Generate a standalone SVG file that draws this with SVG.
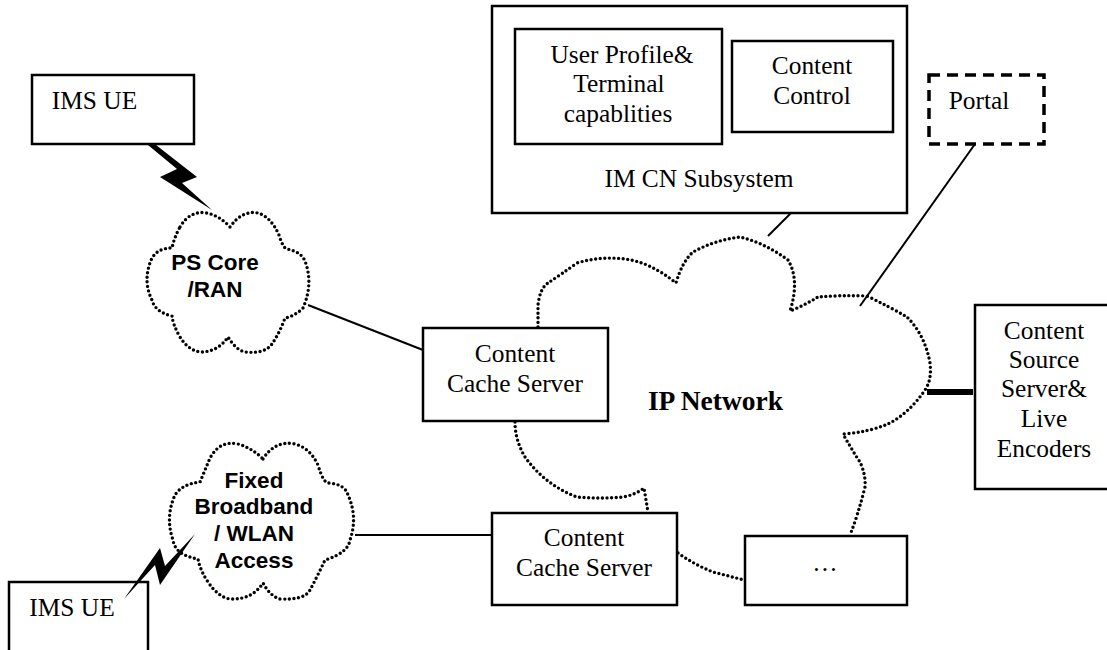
<svg xmlns="http://www.w3.org/2000/svg" width="1107" height="650" viewBox="0 0 1107 650">
<style>
.b{fill:#fff;stroke:#000;stroke-width:2.5}
.d{fill:none;stroke:#000;stroke-width:3.4;stroke-linecap:round;stroke-dasharray:0 4.6}
.l{fill:none;stroke:#000;stroke-width:2}
.t{font-family:"Liberation Serif","Times New Roman",serif;font-size:25.4px;fill:#000;text-anchor:middle}
.s{font-family:"Liberation Sans",Arial,sans-serif;font-size:22.5px;font-weight:bold;fill:#000;text-anchor:middle}
.z{fill:#000;stroke:none}
</style>
<rect width="1107" height="650" fill="#fff"/>
<g id="ip-network">
<path class="d" d="M538 327L538 305Q540 288 548 283Q560 275 577 263Q600 256 625 259Q650 262 676 283Q682 262 693 252Q715 240 740 237Q765 243 788 260Q800 280 790 311Q805 305 818 297Q840 295 867 296Q890 307 907 317Q925 335 930 363Q932 380 925 390Q910 412 890 423Q870 432 843 434Q855 455 860 462Q866 475 865 487Q858 515 850 535"/>
<path class="d" d="M515 422Q515 440 525 457Q545 485 577 497Q600 499 623 497Q635 495 644 488L648 512"/>
<path class="d" d="M678 553Q695 565 713 572L744 580"/>
<text x="715.500" y="410" class="t" style="font-size:27.500px" font-weight="bold">IP Network</text>
</g>
<g id="connectors">
<path class="l" d="M308 305L423 350"/>
<path class="l" d="M355 535L492 535"/>
<path class="l" d="M791 213L768 236"/>
<path class="l" d="M975 144L860 306"/>
<path d="M927 392H973" fill="none" stroke="#000" stroke-width="6"/>
<path class="z" d="M148 145L156 145L197 177L182 183L212 210L160 177L177 169Z"/>
</g>
<g id="ims-ue-top"><rect class="b" x="32" y="75" width="162" height="69"/><text x="94.500" y="109" class="t">IMS UE</text></g>
<g id="ps-core">
<path class="d" d="M180 227Q190 210 207 213Q220 216 230 227Q242 210 258 213Q271 217 279 235Q283 248 287 249Q303 252 306 264Q313 285 303 308Q295 316 285 318Q280 332 272 344Q265 354 245 352Q236 350 228 337Q218 352 200 352Q188 350 180 337Q173 325 172 316Q155 312 152 300Q142 280 152 258Q158 248 172 248Q174 238 180 227Z"/>
<text x="215" y="270" class="s">PS Core</text><text x="215" y="297" class="s">/RAN</text>
</g>
<g id="cache-1"><rect class="b" x="423" y="328" width="185" height="93"/><text x="515" y="362" class="t">Content</text><text x="515" y="392" class="t">Cache Server</text></g>
<g id="fixed-access">
<path class="d" d="M263 459Q275 440 295 444Q310 448 318 465Q323 482 328 483Q345 484 348 495Q358 517 350 540Q348 553 325 560Q318 575 310 590Q305 600 280 599Q270 596 263 583Q252 600 230 599Q218 597 208 582Q200 570 198 559Q175 555 173 540Q165 517 175 495Q182 484 200 482Q205 470 210 458Q220 440 238 444Q252 448 263 459Z"/>
<text x="254" y="488" class="s">Fixed</text><text x="254" y="514" class="s">Broadband</text><text x="254" y="541" class="s">/ WLAN</text><text x="254" y="568" class="s">Access</text>
</g>
<g id="ims-ue-bottom"><rect class="b" x="9" y="582" width="139" height="80"/><text x="72" y="616" class="t">IMS UE</text></g>
<path class="z" d="M124 599L160 548L165 566L195 534L160 585L155 565Z"/>
<g id="cache-2"><rect class="b" x="492" y="513" width="185" height="92"/><text x="584" y="546" class="t">Content</text><text x="584" y="576" class="t">Cache Server</text></g>
<g id="other"><rect class="b" x="745" y="536" width="162" height="69"/><text x="825" y="571" class="t">…</text></g>
<g id="im-cn">
<rect class="b" x="492" y="6" width="415" height="207"/>
<text x="699" y="187" class="t">IM CN Subsystem</text>
<rect class="b" x="515" y="29" width="207" height="115"/>
<text x="622" y="63" class="t">User Profile&amp;</text><text x="619" y="92" class="t">Terminal</text><text x="618" y="122" class="t">capablities</text>
<rect class="b" x="732" y="41" width="161" height="91"/>
<text x="812" y="74" class="t">Content</text><text x="812" y="104" class="t">Control</text>
</g>
<g id="portal"><rect x="929" y="75" width="115" height="69" fill="#fff" stroke="#000" stroke-width="3.500" stroke-dasharray="11 7"/><text x="979" y="109" class="t">Portal</text></g>
<g id="source"><rect class="b" x="975" y="305" width="140" height="184"/><text x="1044" y="339" class="t">Content</text><text x="1044" y="368" class="t">Source</text><text x="1044" y="397" class="t">Server&amp;</text><text x="1044" y="427" class="t">Live</text><text x="1044" y="457" class="t">Encoders</text></g>
</svg>
